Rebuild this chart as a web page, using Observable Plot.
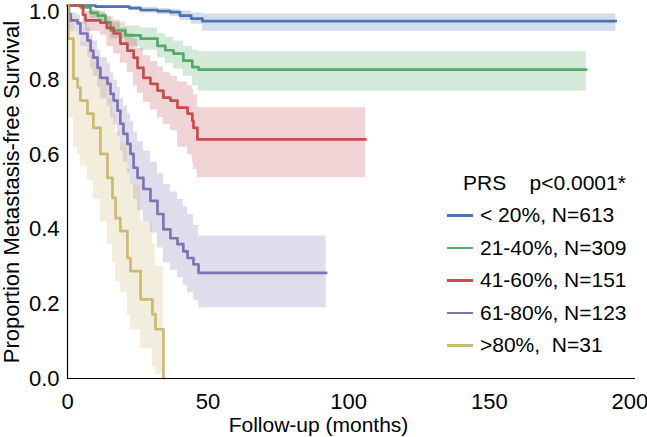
<!DOCTYPE html>
<html><head><meta charset="utf-8">
<script src="https://cdn.jsdelivr.net/npm/d3@7"></script>
<script src="https://cdn.jsdelivr.net/npm/@observablehq/plot@0.6"></script>
<style>
body{margin:0;background:#fff;}
#wrap{position:relative;width:647px;height:437px;font-family:"Liberation Sans",Arial,sans-serif;}
#legend{position:absolute;left:447px;top:166.75px;font-size:21px;line-height:32.5px;color:#000;white-space:pre;}
.row{display:flex;align-items:center;height:32.5px;}
.sw{width:26px;height:2.5px;margin-right:7px;}
.hdr{padding-left:16px;}
</style></head><body><div id="wrap"><div id="legend"></div></div>
<script>
const groups = ["< 20%, N=613", "21-40%, N=309", "41-60%, N=151", "61-80%, N=123", ">80%,  N=31"];
const colors = ["#4C72B0", "#55A868", "#C44E52", "#8172B2", "#CCB974"];
const legendTitle = "PRS", pValue = "p<0.0001*";
const xLabel = "Follow-up (months)";
const yLabel = "Proportion Metastasis-free Survival";
const xTicks = [0, 50, 100, 150, 200];
const yTicks = [0, 0.2, 0.4, 0.6, 0.8];
const yTopTick = [1.0];

const blueT  = [0, 10, 22, 26, 32, 36.6, 40, 44, 48, 195];
const blueS  = [1, 0.997, 0.993, 0.988, 0.985, 0.982, 0.973, 0.965, 0.958, 0.958];
const blueLo = [1, 0.993, 0.987, 0.98, 0.975, 0.97, 0.96, 0.95, 0.931, 0.931];
const blueHi = [1, 1, 0.998, 0.995, 0.992, 0.99, 0.985, 0.98, 0.977, 0.977];

const greenT  = [0, 4.6, 8.2, 10.7, 13.5, 15.3, 20.6, 26, 32, 34.8, 37.7, 41.2, 44.4, 46.6, 184.5];
const greenS  = [1, 0.995, 0.98, 0.973, 0.955, 0.933, 0.92, 0.911, 0.892, 0.88, 0.871, 0.852, 0.835, 0.828, 0.828];
const greenLo = [1, 0.99, 0.965, 0.955, 0.935, 0.91, 0.89, 0.88, 0.86, 0.845, 0.83, 0.81, 0.785, 0.77, 0.77];
const greenHi = [1, 1, 0.99, 0.985, 0.97, 0.955, 0.945, 0.94, 0.925, 0.915, 0.905, 0.89, 0.88, 0.876, 0.876];

const redT  = [0, 5.5, 6.4, 11.7, 14, 16.4, 18.8, 21.3, 23.5, 24.9, 27, 29.5, 32, 34.1, 36.6, 39.1, 42.7, 44.4, 44.8, 46.2, 106];
const redS  = [1, 0.975, 0.96, 0.954, 0.94, 0.925, 0.898, 0.879, 0.86, 0.833, 0.806, 0.79, 0.772, 0.753, 0.745, 0.726, 0.71, 0.691, 0.672, 0.641, 0.641];
const redLo = [1, 0.95, 0.93, 0.92, 0.89, 0.87, 0.845, 0.82, 0.785, 0.765, 0.74, 0.72, 0.70, 0.68, 0.665, 0.62, 0.60, 0.58, 0.56, 0.538, 0.538];
const redHi = [1, 0.99, 0.985, 0.98, 0.97, 0.96, 0.94, 0.925, 0.91, 0.885, 0.865, 0.85, 0.835, 0.82, 0.81, 0.795, 0.785, 0.775, 0.76, 0.726, 0.726];

const purpleT  = [0, 0.5, 1.1, 3.6, 4.6, 7.1, 8.2, 9.2, 10.7, 11.7, 14.2, 15.3, 16.4, 17.8, 18.8, 19.9, 21.3, 22.4, 23.5, 24.9, 27, 29.5, 32, 34.1, 36.6, 39.1, 41.2, 42.7, 44.8, 46.6, 92];
const purpleS  = [1, 0.976, 0.96, 0.952, 0.925, 0.906, 0.879, 0.86, 0.833, 0.806, 0.79, 0.763, 0.745, 0.718, 0.683, 0.656, 0.629, 0.602, 0.565, 0.538, 0.508, 0.476, 0.441, 0.40, 0.376, 0.36, 0.341, 0.323, 0.306, 0.283, 0.283];
const purpleLo = [1, 0.95, 0.93, 0.92, 0.89, 0.86, 0.83, 0.81, 0.78, 0.75, 0.73, 0.70, 0.68, 0.65, 0.61, 0.58, 0.55, 0.52, 0.48, 0.45, 0.42, 0.39, 0.35, 0.31, 0.29, 0.27, 0.25, 0.23, 0.21, 0.19, 0.19];
const purpleHi = [1, 0.99, 0.98, 0.975, 0.955, 0.94, 0.92, 0.905, 0.88, 0.86, 0.845, 0.82, 0.80, 0.78, 0.75, 0.73, 0.71, 0.69, 0.66, 0.635, 0.61, 0.58, 0.55, 0.52, 0.50, 0.48, 0.46, 0.44, 0.41, 0.382, 0.382];

const goldT  = [0, 0.3, 2.1, 3.6, 4.6, 7.1, 9.2, 11.7, 14.2, 16, 17.1, 18.8, 21.3, 22.4, 26, 30.2, 31.3, 34.1];
const goldS  = [1, 0.911, 0.804, 0.78, 0.745, 0.71, 0.672, 0.602, 0.538, 0.484, 0.43, 0.395, 0.323, 0.288, 0.212, 0.172, 0.132, 0];
const goldLo = [1, 0.70, 0.62, 0.60, 0.57, 0.53, 0.48, 0.42, 0.36, 0.31, 0.26, 0.23, 0.17, 0.13, 0.08, 0.03, 0.01, 0];
const goldHi = [1, 0.98, 0.93, 0.92, 0.90, 0.88, 0.85, 0.80, 0.75, 0.71, 0.66, 0.63, 0.56, 0.52, 0.42, 0.36, 0.30, 0];

const series = [
  [blueT, blueS, blueLo, blueHi],
  [greenT, greenS, greenLo, greenHi],
  [redT, redS, redLo, redHi],
  [purpleT, purpleS, purpleLo, purpleHi],
  [goldT, goldS, goldLo, goldHi]
];
const rows = series.flatMap(([T, S, L, H], i) => T.map((t, j) => ({g: groups[i], t, s: S[j], lo: L[j], hi: H[j]})));

const fmt = d => d.toFixed(1);
const chart = Plot.plot({
  width: 647, height: 437,
  marginLeft: 67, marginRight: 12, marginTop: 5, marginBottom: 59,
  style: {fontFamily: "Liberation Sans, Arial, sans-serif", fontSize: "22px", color: "#000", background: "#fff", overflow: "visible"},
  x: {domain: [0, 202]},
  y: {domain: [0, 1]},
  color: {domain: groups, range: colors},
  marks: [
    Plot.areaY(rows, {x: "t", y1: "lo", y2: "hi", z: "g", fill: "g", fillOpacity: 0.25, curve: "step-after"}),
    Plot.lineY(rows, {x: "t", y: "s", z: "g", stroke: "g", strokeWidth: 2.7, curve: "step-after"}),
    Plot.axisX(xTicks, {tickSize: 0, tickPadding: 15, fontSize: 22, label: null}),
    Plot.text([xLabel], {frameAnchor: "bottom", dx: -33, dy: 47, lineAnchor: "middle", fontSize: 21}),
    Plot.axisY(yTicks, {tickSize: 0, tickPadding: 8, fontSize: 22, tickFormat: fmt, label: yLabel, labelAnchor: "center", labelArrow: "none", labelOffset: 64}),
    Plot.axisY(yTopTick, {tickSize: 0, tickPadding: 8, fontSize: 22, tickFormat: fmt, dy: 6, label: null}),
    Plot.ruleX([0], {stroke: "#000", strokeWidth: 1.2}),
    Plot.ruleY([0], {stroke: "#000", strokeWidth: 1.2})
  ]
});
document.getElementById("wrap").prepend(chart);

const leg = document.getElementById("legend");
const hdr = document.createElement("div");
hdr.className = "row hdr";
hdr.textContent = legendTitle + "    " + pValue;
leg.appendChild(hdr);
groups.forEach((g, i) => {
  const r = document.createElement("div");
  r.className = "row";
  const sw = document.createElement("div");
  sw.className = "sw";
  sw.style.background = colors[i];
  const tx = document.createElement("span");
  tx.textContent = g;
  r.appendChild(sw); r.appendChild(tx);
  leg.appendChild(r);
});
</script></body></html>
